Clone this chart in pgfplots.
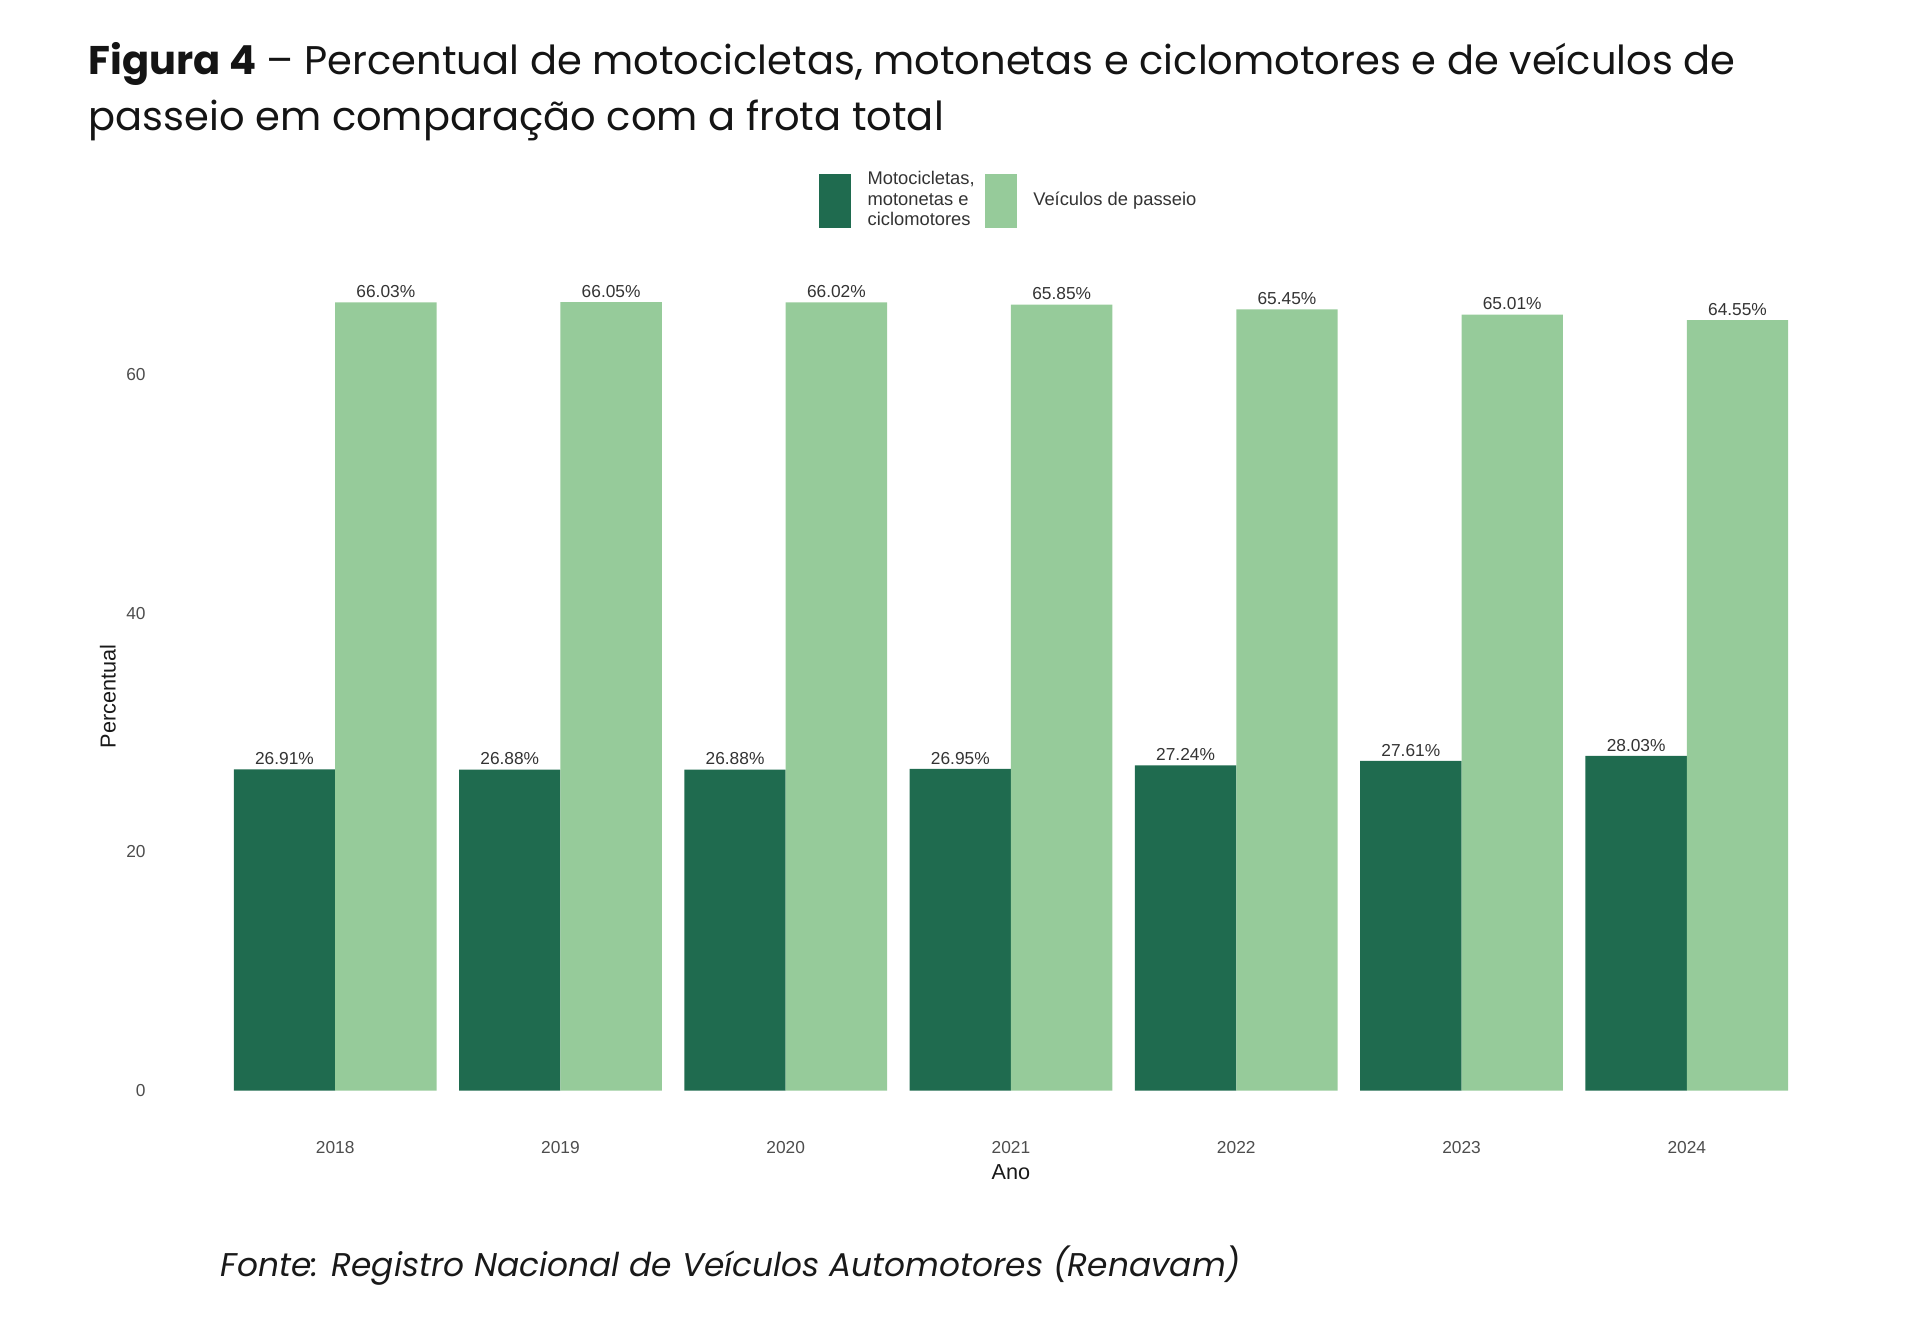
\documentclass[border=0pt]{standalone}
\usepackage{pgfplots}
\pgfplotsset{compat=1.18}
\usepackage{fontspec}
\setmainfont{Liberation Sans}
\newfontfamily\poppins{Poppins}
\definecolor{dk}{HTML}{1F6B4F}
\definecolor{lt}{HTML}{96CB9A}
\definecolor{tck}{HTML}{4D4D4D}
\definecolor{lbl}{HTML}{333333}
\begin{document}
\begin{tikzpicture}[x=1pt,y=1pt]
\useasboundingbox (0,0) rectangle (576,396);
\node[anchor=base west, inner sep=0, text=black!92] at (26.4,373.5) {\poppins\fontsize{12}{14}\selectfont\textbf{Figura 4} – Percentual de motocicletas, motonetas e ciclomotores e de veículos de};
\node[anchor=base west, inner sep=0, text=black!92] at (26.4,356.7) {\poppins\fontsize{12}{14}\selectfont passeio em comparação com a frota total};
\begin{axis}[
  at={(60pt,57pt)}, anchor=south west, scale only axis,
  width=486.6pt, height=260.1pt,
  xmin=0.4, xmax=7.6, ymin=-3.3015, ymax=69.33,
  /pgf/number format/assume math mode=true,
  axis line style={draw=none}, tick style={draw=none},
  ybar, bar width=0.45,
  xtick={1,2,3,4,5,6,7},
  xticklabels={2018,2019,2020,2021,2022,2023,2024},
  ytick={0,20,40,60},
  tick label style={font=\fontsize{5.2}{6}\selectfont, text=tck},
  xticklabel style={yshift=4.5pt},
  yticklabel style={anchor=east, xshift=-12.8pt},
  xlabel={Ano}, ylabel={Percentual},
  label style={font=\fontsize{6.5}{7.5}\selectfont, text=black!90},
  xlabel style={at={(axis description cs:0.5,0)}, anchor=center, yshift=-12.6pt},
  ylabel style={at={(axis description cs:0,0.5)}, anchor=center, yshift=27.6pt},
  nodes near coords={\pgfmathprintnumber[fixed,fixed zerofill,precision=2]{\pgfplotspointmeta}\%},
  nodes near coords style={font=\fontsize{5.2}{6}\selectfont, text=lbl, inner sep=1.2pt},
  legend columns=2,
  legend image code/.code={\fill[#1, draw=none] (0pt,-8.1pt) rectangle (9.6pt,8.1pt);},
  legend style={at={(axis description cs:0.5,1)}, anchor=south, yshift=5.4pt, draw=none,
    font=\fontsize{5.5}{6.2}\selectfont, text=lbl, cells={align=left},
    /tikz/every odd column/.append style={column sep=3pt},
    /tikz/every even column/.append style={column sep=1pt}},
]
\addplot[fill=dk, draw=none, bar shift=-0.225] coordinates {(1,26.91) (2,26.88) (3,26.88) (4,26.95) (5,27.24) (6,27.61) (7,28.03)};
\addplot[fill=lt, draw=none, bar shift=0.225] coordinates {(1,66.03) (2,66.05) (3,66.02) (4,65.85) (5,65.45) (6,65.01) (7,64.55)};
\legend{{Motocicletas,\\motonetas e\\ciclomotores},{Veículos de passeio}}
\end{axis}
\node[anchor=base west, inner sep=0, text=black!90] at (66,12.9) {\poppins\itshape\fontsize{9.85}{12}\selectfont Fonte: Registro Nacional de Veículos Automotores (Renavam)};
\end{tikzpicture}
\end{document}
